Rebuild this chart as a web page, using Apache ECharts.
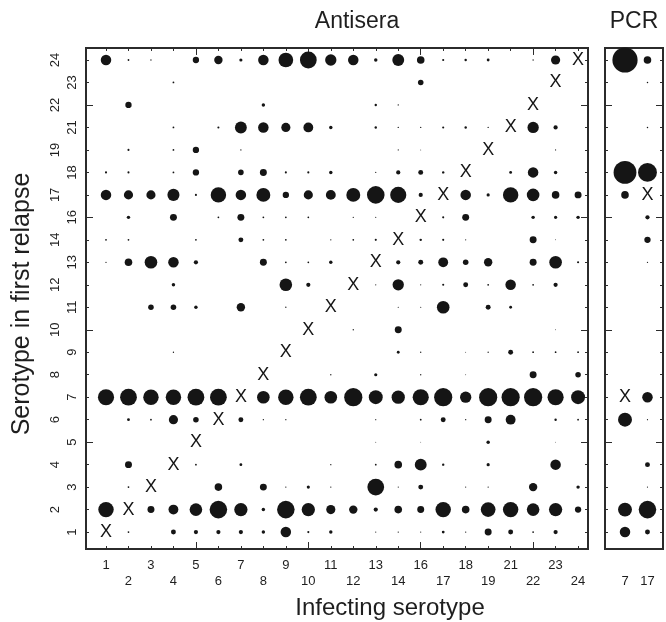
<!DOCTYPE html>
<html>
<head>
<meta charset="utf-8">
<title>Serotype in first relapse</title>
<script src="https://cdn.jsdelivr.net/npm/echarts@6/dist/echarts.min.js"></script>
<style>
    html, body { margin: 0; padding: 0; background: #fff; }
    #chart1 { width: 666px; height: 622px; }
</style>
</head>
<body>
<div id="chart1"></div>
<script>
var serotypes = ['1', '2', '3', '4', '5', '6', '7', '8', '9', '10', '11', '12', '13', '14', '16', '17', '18', '19', '21', '22', '23', '24'];
var pcrTypes = ['7', '17'];

// rows go from 24 (top) down to 1, columns follow serotypes; 0 = no dot
var antisera = [
    [25, 0.7, 0.4, 0, 9, 16, 2.3, 25, 49, 64, 29, 25, 2.7, 32, 13, 1, 1.3, 1.8, 0, 0.4, 19, 0],   // 24
    [0, 0, 0, 0.7, 0, 0, 0, 0, 0, 0, 0, 0, 0, 0, 7, 0, 0, 0, 0, 0, 0, 0],                        // 23
    [0, 9, 0, 0, 0, 0, 0, 2.7, 0, 0, 0, 0, 1.3, 0.4, 0, 0, 0, 0, 0, 0, 0, 0],                    // 22
    [0, 0, 0, 0.7, 0, 1, 32, 25, 19, 22, 2.7, 0, 1.3, 0.4, 0.4, 1, 1.3, 0.4, 0, 29, 4, 0],       // 21
    [0, 1, 0, 0.7, 9, 0, 0.4, 0, 0, 0, 0, 0, 0, 0.3, 0.2, 0, 0, 0, 0, 0, 0.3, 0],                // 19
    [1, 1, 0, 0.7, 9, 0, 7, 11, 1, 1, 2.7, 0, 0.3, 4, 5.5, 1.3, 0, 0, 1.8, 25, 2.7, 0],          // 18
    [25, 19, 19, 33, 1, 54, 25, 44, 9, 19, 22, 44, 70, 59, 4, 0, 25, 2.3, 54, 36, 13, 11],       // 17
    [0, 2.7, 0, 11, 0, 0.7, 11, 0.7, 0.7, 0.7, 0, 0.4, 0.3, 0, 0, 1, 11, 0, 0, 2.7, 2.3, 2.7],   // 16
    [0.7, 0.7, 0, 0, 0.7, 0, 5.5, 0.7, 0.7, 0, 0.4, 0.7, 1, 0, 1.3, 1, 0.3, 0, 0, 11, 0.2, 0],   // 14
    [0.4, 13, 36, 25, 4, 0, 0, 11, 0.7, 0.7, 2.7, 0, 0, 4, 5.5, 22, 7, 16, 0, 11, 36, 1],        // 13
    [0, 0, 0, 2.7, 0, 0, 0, 0, 36, 4, 0, 0, 0.3, 29, 0.3, 1, 5.5, 0.7, 25, 0.7, 4, 0],           // 12
    [0, 0, 7, 7, 2.7, 0, 16, 0, 0.4, 0, 0, 0, 0, 0.3, 0.3, 36, 0, 5.5, 1.8, 0, 0, 0],            // 11
    [0, 0, 0, 0, 0, 0, 0, 0, 0, 0, 0, 0.4, 0, 11, 0, 0, 0, 0, 0, 0, 0.2, 0],                     // 10
    [0, 0, 0, 0.4, 0, 0, 0, 0, 0, 0, 0, 0, 0, 1.8, 0.4, 0, 0.2, 0.4, 5.5, 0.7, 0.7, 0.7],        // 9
    [0, 0, 0, 0, 0, 0, 0, 0, 0, 0, 0.4, 0, 2.3, 0, 0.4, 0, 0.2, 0, 0, 11, 0, 7],                 // 8
    [59, 64, 54, 54, 64, 64, 0, 36, 54, 64, 36, 75, 44, 40, 59, 75, 29, 75, 75, 75, 59, 44],     // 7
    [0, 1.8, 0.7, 19, 7, 0, 5.5, 0.4, 0.4, 0, 0, 0, 0.3, 0, 0.7, 5.5, 0.4, 11, 22, 0, 1.3, 0.7], // 6
    [0, 0, 0, 0, 0, 0, 0, 0, 0, 0, 0, 0, 0.2, 0, 0.15, 0, 0, 2.7, 0, 0, 0.15, 0],                // 5
    [0, 11, 0, 0, 0.7, 0, 1.8, 0, 0, 0, 0.4, 0, 0.7, 13, 32, 1.3, 0, 2.3, 0, 0, 25, 0],          // 4
    [0, 0.7, 0, 0, 0, 13, 0, 11, 0.4, 2.3, 0.4, 0, 64, 0.3, 5.5, 0, 0.3, 0.4, 0, 16, 0, 2.7],    // 3
    [54, 0, 11, 22, 36, 70, 40, 2.7, 70, 40, 19, 16, 4, 13, 11, 54, 13, 49, 54, 36, 40, 9],      // 2
    [0, 0.7, 0, 5.5, 4, 4, 4, 2.7, 25, 1, 2.7, 0, 0.3, 0.4, 0.3, 1.8, 0.4, 11, 5.5, 0.7, 4, 0]   // 1
];

// PCR columns, rows again from 24 down to 1
var pcrType7 = [144, 0, 0, 0, 0, 118, 13, 0, 0, 0, 0, 0, 0, 0, 0, 0, 44, 0, 0, 0, 44, 25];
var pcrType17 = [13, 0.5, 0, 0.5, 0, 81, 0, 4, 9, 0.4, 0, 0, 0, 0, 0, 25, 0.3, 0, 5.5, 0.3, 70, 5.5];

var dotColor = '#151515';
var lineColor = '#2b2b2b';
var textColor = '#1e1e1e';
var fontFamily = 'Liberation Sans, Arial, sans-serif';

var dotSize = function (v) {
    return 2.1 * Math.sqrt(v);
};

var rowLabel = function (r) {
    return serotypes[serotypes.length - 1 - r];
};

var mainDots = [];
for (var r = 0; r < antisera.length; r++) {
    for (var c = 0; c < serotypes.length; c++) {
        if (antisera[r][c] > 0) {
            mainDots.push([serotypes[c], rowLabel(r), antisera[r][c]]);
        }
    }
}
var pcrDots = [];
for (var r2 = 0; r2 < pcrType7.length; r2++) {
    if (pcrType7[r2] > 0) pcrDots.push(['7', rowLabel(r2), pcrType7[r2]]);
    if (pcrType17[r2] > 0) pcrDots.push(['17', rowLabel(r2), pcrType17[r2]]);
}
// the diagonal (same serotype) is marked with an X
var mainCross = serotypes.map(function (s) { return [s, s]; });
var pcrCross = pcrTypes.map(function (s) { return [s, s]; });

var isEven = function (i) { return i % 2 === 0; };
var isOdd = function (i) { return i % 2 === 1; };
var isFifth = function (i) { return i % 5 === 4; };

// one category axis; ticks point inward, labels optional
var catAxis = function (gridIndex, data, position, offset, tickLen, tickEvery, labelEvery, labelMargin, rotate) {
    return {
        type: 'category',
        gridIndex: gridIndex,
        data: data,
        position: position,
        offset: offset,
        axisLine: { show: false },
        axisTick: {
            show: tickLen > 0,
            inside: true,
            alignWithLabel: true,
            length: tickLen,
            interval: tickEvery,
            lineStyle: { color: lineColor, width: 1 }
        },
        axisLabel: {
            show: labelEvery !== null,
            interval: labelEvery === null ? 0 : labelEvery,
            margin: labelMargin,
            rotate: rotate || 0,
            color: textColor,
            fontSize: 13,
            fontFamily: fontFamily
        },
        splitLine: { show: false }
    };
};

var hiddenAxis = function (gridIndex) {
    return { type: 'value', gridIndex: gridIndex, show: false };
};

var crossLabel = {
    show: true,
    position: 'inside',
    formatter: 'X',
    color: dotColor,
    opacity: 1,
    fontSize: 18,
    fontFamily: fontFamily
};

var titleText = function (x, y, text, size, rotation) {
    return {
        type: 'text',
        x: x,
        y: y,
        rotation: rotation || 0,
        style: {
            text: text,
            font: size + 'px ' + fontFamily,
            fill: textColor,
            align: 'center',
            verticalAlign: 'middle',
            textAlign: 'center',
            textVerticalAlign: 'middle'
        }
    };
};

var myChart = echarts.init(document.getElementById('chart1'), null, { renderer: 'canvas' });

var option = {
    animation: false,
    backgroundColor: '#fff',
    grid: [
        { left: 94.76, top: 48.76, width: 494.56, height: 494.56, outerBoundsMode: 'none' },
        { left: 86, top: 48, width: 502, height: 501, show: true, borderColor: lineColor, borderWidth: 2, backgroundColor: 'transparent', outerBoundsMode: 'none' },
        { left: 613.76, top: 48.76, width: 44.96, height: 494.56, outerBoundsMode: 'none' },
        { left: 605, top: 48, width: 58, height: 501, show: true, borderColor: lineColor, borderWidth: 2, backgroundColor: 'transparent', outerBoundsMode: 'none' }
    ],
    xAxis: [
        catAxis(0, serotypes, 'bottom', 5.7, 3, 0, isEven, 10),
        catAxis(0, serotypes, 'bottom', 5.7, 7, isFifth, isOdd, 26),
        catAxis(0, serotypes, 'top', 0.8, 3, 0, null, 0),
        catAxis(0, serotypes, 'top', 0.8, 7, isFifth, null, 0),
        hiddenAxis(1),
        catAxis(2, pcrTypes, 'bottom', 5.7, 0, 0, 0, 26),
        hiddenAxis(3)
    ],
    yAxis: [
        catAxis(0, serotypes, 'left', 8.76, 3, 0, isEven, 7, 90),
        catAxis(0, serotypes, 'left', 8.76, 7, isFifth, isOdd, 24, 90),
        catAxis(0, serotypes, 'right', -1.3, 3, 0, null, 0),
        catAxis(0, serotypes, 'right', -1.3, 7, isFifth, null, 0),
        hiddenAxis(1),
        catAxis(2, serotypes, 'left', 8.76, 3, 0, null, 0),
        catAxis(2, serotypes, 'left', 8.76, 7, isFifth, null, 0),
        catAxis(2, serotypes, 'right', 4.3, 3, 0, null, 0),
        catAxis(2, serotypes, 'right', 4.3, 7, isFifth, null, 0),
        hiddenAxis(3)
    ],
    graphic: [
        titleText(357, 22, 'Antisera', 23),
        titleText(634, 22, 'PCR', 23),
        titleText(390, 608, 'Infecting serotype', 24),
        titleText(22, 304, 'Serotype in first relapse', 25, Math.PI / 2)
    ],
    series: [
        {
            type: 'scatter',
            xAxisIndex: 0,
            yAxisIndex: 0,
            data: mainDots,
            symbolSize: function (d) { return dotSize(d[2]); },
            itemStyle: { color: dotColor, opacity: 1 },
            silent: true
        },
        {
            type: 'scatter',
            xAxisIndex: 0,
            yAxisIndex: 0,
            data: mainCross,
            symbolSize: 1,
            itemStyle: { color: 'rgba(0,0,0,0)', opacity: 1 },
            label: crossLabel,
            silent: true
        },
        {
            type: 'scatter',
            xAxisIndex: 5,
            yAxisIndex: 5,
            data: pcrDots,
            symbolSize: function (d) { return dotSize(d[2]); },
            itemStyle: { color: dotColor, opacity: 1 },
            silent: true
        },
        {
            type: 'scatter',
            xAxisIndex: 5,
            yAxisIndex: 5,
            data: pcrCross,
            symbolSize: 1,
            itemStyle: { color: 'rgba(0,0,0,0)', opacity: 1 },
            label: crossLabel,
            silent: true
        }
    ]
};
myChart.setOption(option);
</script>
</body>
</html>
